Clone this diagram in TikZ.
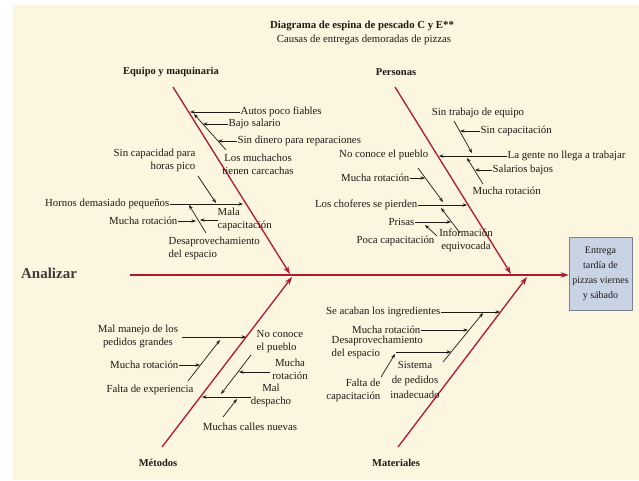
\documentclass[tikz,border=0pt]{standalone}
\usepackage{fontspec}
\setmainfont{Liberation Serif}
\usetikzlibrary{arrows.meta}
\definecolor{cream}{RGB}{252,245,224}
\definecolor{bonered}{RGB}{178,24,44}
\definecolor{boxfill}{RGB}{200,212,228}
\definecolor{boxline}{RGB}{120,130,145}
\definecolor{ink}{RGB}{30,26,22}
\begin{document}
\begin{tikzpicture}[x=1pt,y=-1pt,
  lbl/.style={font=\fontsize{10.8}{13}\selectfont, text=ink, inner sep=0.5pt, align=center},
  cat/.style={font=\bfseries\fontsize{10.5}{12}\selectfont, text=ink, inner sep=0.5pt},
  bone/.style={draw=bonered, line width=1.3pt, -{Stealth[length=8pt,width=5.5pt]}},
  sub/.style={draw=ink, line width=0.7pt, -{Stealth[length=4.5pt,width=3.4pt]}}]
\useasboundingbox (0,0) rectangle (639,480);
\fill[white] (0,0) rectangle (639,480);
\fill[cream] (13,5) rectangle (639,480);

% title
\node[font=\bfseries\fontsize{10.8}{12}\selectfont, text=ink] (title) at (362,26) {Diagrama de espina de pescado C y E**};
\node[font=\fontsize{10.8}{12}\selectfont, text=ink] (subtitle) at (364,40) {Causas de entregas demoradas de pizzas};

% effect and spine
\node[draw=boxline, fill=boxfill, line width=0.8pt, minimum width=63pt, minimum height=73pt,
      align=center, font=\fontsize{10}{15}\selectfont, text=ink, inner sep=1pt] (effect) at (600.5,273.5)
      {Entrega\\tardía de\\pizzas viernes\\y sábado};
\node[font=\bfseries\fontsize{15}{17}\selectfont, text=ink!85] (analizar) at (49,273) {Analizar};
\coordinate (sp0) at (130,275);
\draw[bone, line width=1.6pt] (sp0) -- (sp0 -| effect.west);

% main bones
\coordinate (eqT) at (173,87);  \coordinate (eqB) at (290,274);
\coordinate (peT) at (395,87);  \coordinate (peB) at (511,274);
\coordinate (meT) at (162,447); \coordinate (meB) at (292,277);
\coordinate (maT) at (398,447); \coordinate (maB) at (527,277);
\draw[bone] (eqT) -- (eqB);
\draw[bone] (peT) -- (peB);
\draw[bone] (meT) -- (meB);
\draw[bone] (maT) -- (maB);

\node[cat] (catEq) at (171,72) {Equipo y maquinaria};
\node[cat] (catPe) at (396,72) {Personas};
\node[cat] (catMe) at (158,463) {Métodos};
\node[cat] (catMa) at (396,463) {Materiales};

% ---- Equipo y maquinaria
\node[lbl, anchor=west] (autos) at (240,112) {Autos poco fiables};
\coordinate (autosT) at (190,112);
\draw[sub] (autos.west) -- (autosT);
\coordinate (carcA) at (226,150); \coordinate (carcB) at (194,114);
\draw[sub] (carcA) -- (carcB);
\node[lbl] (carc) at (258,164) {Los muchachos\\tienen carcachas};
\node[lbl, anchor=west] (bajo) at (228,124) {Bajo salario};
\coordinate (bajoT) at (203,124);
\draw[sub] (bajo.west) -- (bajoT);
\node[lbl, anchor=west] (sind) at (237,141) {Sin dinero para reparaciones};
\coordinate (sindT) at (218,141);
\draw[sub] (sind.west) -- (sindT);

\node[lbl, anchor=east] (horn) at (170,204) {Hornos demasiado pequeños};
\coordinate (hornT) at (243,204);
\draw[sub] (horn.east) -- (hornT);
\node[lbl, align=right, anchor=east] (scap) at (196,160) {Sin capacidad para\\horas pico};
\coordinate (scapA) at (198,176); \coordinate (scapT) at (216,203);
\draw[sub] (scapA) -- (scapT);
\coordinate (desA) at (206,233); \coordinate (desT) at (189,205);
\draw[sub] (desA) -- (desT);
\node[lbl, align=left, anchor=north west] (desp) at (168,236) {Desaprovechamiento\\del espacio};
\node[lbl, anchor=east] (mrot1) at (178,221) {Mucha rotación};
\coordinate (mrot1T) at (196,221);
\draw[sub] (mrot1.east) -- (mrot1T);
\node[lbl, align=left, anchor=north west] (mala) at (217,207) {Mala\\capacitación};
\coordinate (malaA) at (218,220); \coordinate (malaT) at (200,220);
\draw[sub] (malaA) -- (malaT);

% ---- Personas
\node[lbl] (stde) at (478,113) {Sin trabajo de equipo};
\coordinate (stdeA) at (454,121); \coordinate (stdeT) at (472,153);
\draw[sub] (stdeA) -- (stdeT);
\node[lbl, anchor=west] (scap2) at (480,131) {Sin capacitación};
\coordinate (scap2T) at (460,131);
\draw[sub] (scap2.west) -- (scap2T);
\node[lbl, anchor=west] (lag) at (507,156) {La gente no llega a trabajar};
\coordinate (lagT) at (439,156);
\draw[sub] (lag.west) -- (lagT);
\node[lbl, anchor=east] (ncp) at (429,155) {No conoce el pueblo};
\coordinate (mr2A) at (483,184); \coordinate (mr2T) at (467,158);
\draw[sub] (mr2A) -- (mr2T);
\node[lbl, anchor=west] (salb) at (492,170) {Salarios bajos};
\coordinate (salbT) at (475,170);
\draw[sub] (salb.west) -- (salbT);
\node[lbl, anchor=west] (mrot2) at (472,191) {Mucha rotación};

\node[lbl, anchor=east] (chof) at (418,205) {Los choferes se pierden};
\coordinate (chofT) at (467,205);
\draw[sub] (chof.east) -- (chofT);
\coordinate (mr3A) at (418,168); \coordinate (mr3T) at (443,202);
\draw[sub] (mr3A) -- (mr3T);
\node[lbl, anchor=east] (mrot3) at (410,178) {Mucha rotación};
\coordinate (mrot3T) at (425,178);
\draw[sub] (mrot3.east) -- (mrot3T);
\coordinate (infA) at (460,233); \coordinate (infT) at (441,208);
\draw[sub] (infA) -- (infT);
\node[lbl, anchor=east] (prisas) at (415,222) {Prisas};
\coordinate (prisasT) at (451,222);
\draw[sub] (prisas.east) -- (prisasT);
\node[lbl] (info) at (466,240) {Información\\equivocada};
\node[lbl, anchor=east] (poca) at (435,241) {Poca capacitación};
\coordinate (pocaA) at (437,236); \coordinate (pocaT) at (425,225);
\draw[sub] (pocaA) -- (pocaT);

% ---- Métodos
\node[lbl] (mmp) at (138,336) {Mal manejo de los\\pedidos grandes};
\coordinate (mmpA) at (182,337); \coordinate (mmpT) at (246,337);
\draw[sub] (mmpA) -- (mmpT);
\node[lbl, align=left, anchor=north west] (ncp2) at (256,330) {No conoce\\el pueblo};
\coordinate (falA) at (188,381); \coordinate (falT) at (220,340);
\draw[sub] (falA) -- (falT);
\node[lbl, anchor=east] (mrot4) at (179,365) {Mucha rotación};
\coordinate (mrot4T) at (200,365);
\draw[sub] (mrot4.east) -- (mrot4T);
\node[lbl] (falta) at (150,390) {Falta de experiencia};
\coordinate (ncpA) at (251,355); \coordinate (ncpT) at (221,394);
\draw[sub] (ncpA) -- (ncpT);
\node[lbl] (mrot5) at (290,369) {Mucha\\rotación};
\coordinate (mrot5A) at (270,372); \coordinate (mrot5T) at (239,372);
\draw[sub] (mrot5A) -- (mrot5T);
\node[lbl] (mald) at (271,395) {Mal\\despacho};
\coordinate (mdA) at (251,397); \coordinate (mdT) at (202,397);
\draw[sub] (mdA) -- (mdT);
\node[lbl] (mcn) at (250,427) {Muchas calles nuevas};
\coordinate (mcnA) at (223,417); \coordinate (mcnT) at (237,399);
\draw[sub] (mcnA) -- (mcnT);

% ---- Materiales
\node[lbl, anchor=east] (sai) at (441,312) {Se acaban los ingredientes};
\coordinate (saiT) at (500,312);
\draw[sub] (sai.east) -- (saiT);
\coordinate (sisA) at (443,362); \coordinate (sisT) at (483,313);
\draw[sub] (sisA) -- (sisT);
\node[lbl, anchor=east] (mrot6) at (421,330) {Mucha rotación};
\coordinate (mrot6T) at (468,330);
\draw[sub] (mrot6.east) -- (mrot6T);
\node[lbl, align=left, anchor=north west] (desp2) at (331,335) {Desaprovechamiento\\del espacio};
\coordinate (d2A) at (396,352); \coordinate (d2T) at (451,352);
\draw[sub] (d2A) -- (d2T);
\node[lbl, align=right, anchor=east] (falta2) at (381,390) {Falta de\\capacitación};
\coordinate (f2A) at (381,377); \coordinate (f2T) at (395,354);
\draw[sub] (f2A) -- (f2T);
\node[lbl, font=\fontsize{10.8}{15}\selectfont] (sis) at (415,380) {Sistema\\de pedidos\\inadecuado};
\end{tikzpicture}
\end{document}
